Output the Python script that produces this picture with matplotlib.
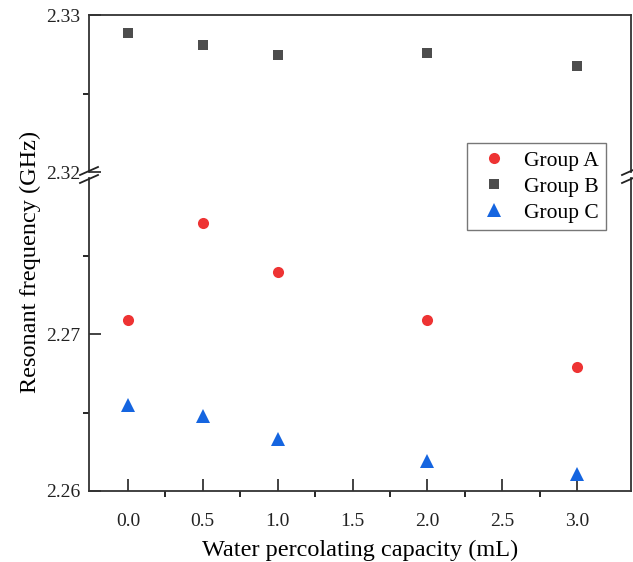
import matplotlib
matplotlib.use('Agg')
import matplotlib.pyplot as plt
from matplotlib.lines import Line2D
from matplotlib.ticker import FixedLocator

# Data
x = [0.0, 0.5, 1.0, 2.0, 3.0]
group_a = [2.2709, 2.2771, 2.2740, 2.2709, 2.2679]
group_b = [2.32886, 2.32806, 2.32746, 2.32756, 2.32677]
group_c = [2.2655, 2.2648, 2.2633, 2.2619, 2.2611]
labels = ['Group A', 'Group B', 'Group C']
xticks = [0.0, 0.5, 1.0, 1.5, 2.0, 2.5, 3.0]
xtick_labels = ['0.0', '0.5', '1.0', '1.5', '2.0', '2.5', '3.0']
xminor = [0.25, 0.75, 1.25, 1.75, 2.25, 2.75]

plt.rcParams['font.family'] = ['Liberation Serif', 'DejaVu Serif']
plt.rcParams['axes.linewidth'] = 1.3

W, H = 633, 562
fig = plt.figure(figsize=(W / 100, H / 100), dpi=100)

# pixel layout
left, right, top, bottom, joint, gap = 89, 631, 15, 491, 175, 3


def fx(px):
    return px / W


def fy(py):
    return 1 - py / H


ax_top = fig.add_axes([fx(left), fy(joint - gap), fx(right - left), (joint - gap - top) / H])
ax_bot = fig.add_axes([fx(left), fy(bottom), fx(right - left), (bottom - joint - gap) / H])

red, gray, blue = '#ee3333', '#4d4d4d', '#1565e0'

for ax in (ax_top, ax_bot):
    ax.plot(x, group_a, 'o', color=red, markersize=8, markeredgewidth=0, label=labels[0])
    ax.plot(x, group_b, 's', color=gray, markersize=7.5, markeredgewidth=0, label=labels[1])
    ax.plot(x, group_c, '^', color=blue, markersize=9.5, markeredgewidth=0, label=labels[2])
    ax.set_xlim(-0.26, 3.36)
    ax.tick_params(axis='both', direction='in', labelsize=14, colors='#222222',
                   right=False, top=False)
    ax.tick_params(which='major', length=8.5, width=1.2)
    ax.tick_params(which='minor', length=4.5, width=1.2)
    ax.tick_params(axis='y', pad=6)
    for s in ax.spines.values():
        s.set_color('#333333')

ax_top.set_ylim(2.32, 2.33)
ax_top.yaxis.set_major_locator(FixedLocator([2.32, 2.33]))
ax_top.yaxis.set_minor_locator(FixedLocator([2.325]))
ax_top.spines['bottom'].set_visible(False)
ax_top.tick_params(axis='x', which='both', bottom=False, labelbottom=False)
ax_top.set_yticklabels(['2.32', '2.33'])

ax_bot.set_ylim(2.26, 2.28)
ax_bot.yaxis.set_major_locator(FixedLocator([2.26, 2.27]))
ax_bot.yaxis.set_minor_locator(FixedLocator([2.265, 2.275]))
ax_bot.set_yticklabels(['2.26', '2.27'])
ax_bot.spines['top'].set_visible(False)
ax_bot.set_xticks(xticks)
ax_bot.set_xticklabels(xtick_labels)
ax_bot.xaxis.set_minor_locator(FixedLocator(xminor))
ax_bot.tick_params(axis='x', pad=16)
ax_bot.set_xlabel('Water percolating capacity (mL)', fontsize=17.5, labelpad=7)

# break marks
for xb in (left, right):
    for dy in (-gap - 1, gap + 1):
        yc = joint + dy
        fig.add_artist(Line2D([fx(xb - 9), fx(xb + 9)], [fy(yc + 4), fy(yc - 4)],
                              color='#222222', linewidth=1.3))

fig.text(fx(30), fy(262), 'Resonant frequency (GHz)', rotation=90,
         fontsize=17.5, ha='center', va='center')

handles, _ = ax_bot.get_legend_handles_labels()
leg = fig.legend(handles, labels, loc='upper right',
                 bbox_to_anchor=(fx(606), fy(143)), fontsize=15.5,
                 frameon=True, fancybox=False, edgecolor='#555555',
                 borderaxespad=0, borderpad=0.35, labelspacing=0.28,
                 handletextpad=0.5, handlelength=1.8)
leg.get_frame().set_linewidth(1.0)

fig.savefig('out.png', dpi=100)
